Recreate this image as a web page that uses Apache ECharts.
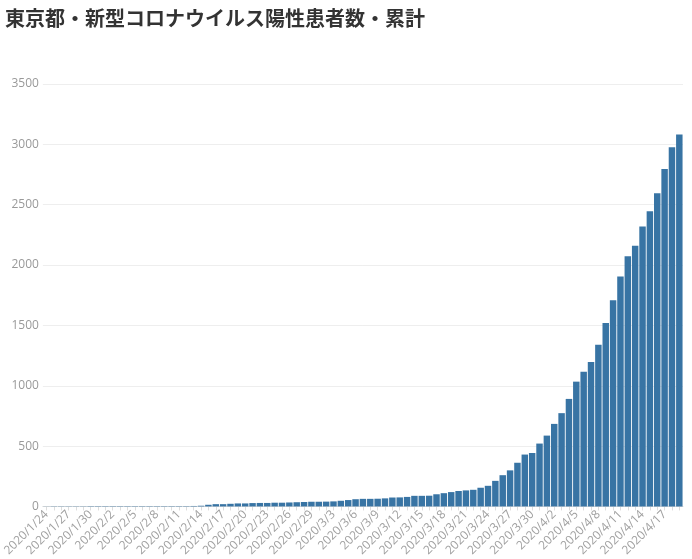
<!DOCTYPE html>
<html>
<head>
<meta charset="utf-8">
<script src="https://cdn.jsdelivr.net/npm/echarts@6/dist/echarts.min.js"></script>
<style>
  html, body { margin: 0; padding: 0; background: #fff; }
  #main { width: 692px; height: 559px; }
</style>
</head>
<body>
<div id="main"></div>
<script>
const dates = [
  '2020/1/24', '2020/1/25', '2020/1/26', '2020/1/27', '2020/1/28', '2020/1/29', '2020/1/30', '2020/1/31',
  '2020/2/1', '2020/2/2', '2020/2/3', '2020/2/4', '2020/2/5', '2020/2/6', '2020/2/7', '2020/2/8',
  '2020/2/9', '2020/2/10', '2020/2/11', '2020/2/12', '2020/2/13', '2020/2/14', '2020/2/15', '2020/2/16',
  '2020/2/17', '2020/2/18', '2020/2/19', '2020/2/20', '2020/2/21', '2020/2/22', '2020/2/23', '2020/2/24',
  '2020/2/25', '2020/2/26', '2020/2/27', '2020/2/28', '2020/2/29',
  '2020/3/1', '2020/3/2', '2020/3/3', '2020/3/4', '2020/3/5', '2020/3/6', '2020/3/7', '2020/3/8',
  '2020/3/9', '2020/3/10', '2020/3/11', '2020/3/12', '2020/3/13', '2020/3/14', '2020/3/15', '2020/3/16',
  '2020/3/17', '2020/3/18', '2020/3/19', '2020/3/20', '2020/3/21', '2020/3/22', '2020/3/23', '2020/3/24',
  '2020/3/25', '2020/3/26', '2020/3/27', '2020/3/28', '2020/3/29', '2020/3/30', '2020/3/31',
  '2020/4/1', '2020/4/2', '2020/4/3', '2020/4/4', '2020/4/5', '2020/4/6', '2020/4/7', '2020/4/8',
  '2020/4/9', '2020/4/10', '2020/4/11', '2020/4/12', '2020/4/13', '2020/4/14', '2020/4/15', '2020/4/16',
  '2020/4/17', '2020/4/18', '2020/4/19'
]

// 累計 (cumulative positives)
const janTotals = [1, 2, 2, 2, 2, 2, 3, 3]
const febTotals = [3, 3, 3, 3, 3, 3, 3, 3, 3, 3, 3, 3,
  4, 6, 14, 19, 19, 22, 25, 25, 28, 29, 29, 31, 31, 33, 35, 37, 39]
const marTotals = [39, 40, 42, 47, 53, 60, 63, 63, 64, 67,
  74, 75, 79, 88, 88, 89, 101, 110, 119, 128,
  133, 138, 155, 171, 212, 259, 299, 362, 430, 443, 521]
const aprTotals = [587, 684, 773, 891, 1034, 1116, 1196, 1339, 1520, 1709,
  1906, 2072, 2159, 2320, 2446, 2595, 2796, 2977, 3082]

const totals = [...janTotals, ...febTotals, ...marTotals, ...aprTotals]

const chart = echarts.init(document.getElementById('main'))

chart.setOption({
  animation: false,
  title: {
    text: '東京都・新型コロナウイルス陽性患者数・累計',
    left: 0,
    top: 3,
    textStyle: {
      fontFamily: '"Noto Sans CJK JP", sans-serif',
      fontSize: 20,
      fontWeight: 'bold',
      color: '#333'
    }
  },
  grid: {
    left: 39,
    right: 9,
    top: 84,
    bottom: 50
  },
  xAxis: {
    type: 'category',
    data: dates,
    axisLine: { lineStyle: { color: '#ddd' } },
    axisTick: { show: true, interval: 0, alignWithLabel: true, length: 4, lineStyle: { color: '#ddd' } },
    axisLabel: {
      interval: 2,
      rotate: 45,
      color: '#a0a0a0',
      fontSize: 12,
      margin: 6,
      fontFamily: '"Open Sans", sans-serif'
    }
  },
  yAxis: {
    type: 'value',
    min: 0,
    max: 3500,
    interval: 500,
    axisLine: { show: false },
    axisTick: { show: false },
    axisLabel: {
      color: '#999',
      fontSize: 12,
      margin: 4,
      formatter: v => String(v),
      fontFamily: '"Open Sans", sans-serif'
    },
    splitLine: { lineStyle: { color: '#eee' } }
  },
  series: [
    {
      name: '累計',
      type: 'bar',
      data: totals,
      barCategoryGap: '12%',
      itemStyle: { color: '#3874a4' }
    }
  ]
})
</script>
</body>
</html>
